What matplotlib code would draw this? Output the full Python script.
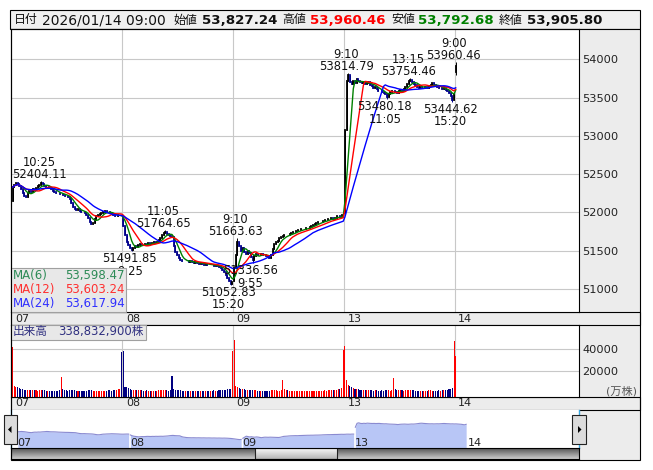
import numpy as np
import pandas as pd
import matplotlib
matplotlib.use("Agg")
import matplotlib.pyplot as plt
from matplotlib.patches import Rectangle, Polygon
from matplotlib.transforms import blended_transform_factory as blend

plt.rcParams['font.family'] = ['DejaVu Sans', 'Noto Sans CJK JP']

# ---- data (5分足, 日経平均) ----
days = ['07', '08', '09', '13', '14']

close_07 = [52330, 52360, 52390, 52370, 52340, 52300, 52250, 52220, 52200, 52250, 52280,
            52270, 52300, 52290, 52320, 52340, 52360, 52390, 52370, 52340, 52330, 52330,
            52320, 52300, 52280, 52270, 52260, 52250, 52240, 52240, 52230, 52220, 52210,
            52200, 52180, 52120, 52070, 52040, 52030, 52040, 52020, 52010, 52000, 51990,
            51970, 51930, 51880, 51850, 51860, 51910, 51950, 51960, 51980, 51990, 52000,
            52020, 52010, 52000, 51990, 51980, 51960, 51950, 51950, 51960, 51970, 51960]
close_08 = [51820, 51700, 51620, 51580, 51540, 51510, 51540, 51560, 51550, 51570, 51590,
            51580, 51570, 51590, 51580, 51600, 51590, 51600, 51610, 51600, 51620, 51640,
            51660, 51700, 51730, 51750, 51720, 51700, 51690, 51680, 51560, 51480, 51440,
            51400, 51380, 51370, 51360, 51370, 51360, 51350, 51360, 51350, 51340, 51350,
            51340, 51330, 51340, 51330, 51320, 51330, 51320, 51310, 51320, 51310, 51300,
            51310, 51300, 51290, 51270, 51250, 51220, 51180, 51140, 51100, 51070, 51090]
close_09 = [51280, 51450, 51620, 51560, 51500, 51530, 51480, 51460, 51500, 51470, 51420,
            51380, 51430, 51460, 51450, 51440, 51460, 51450, 51440, 51430, 51420, 51410,
            51450, 51520, 51590, 51610, 51630, 51660, 51680, 51690, 51700, 51710, 51700,
            51720, 51730, 51740, 51750, 51760, 51770, 51770, 51780, 51780, 51790, 51800,
            51800, 51810, 51820, 51840, 51850, 51860, 51870, 51870, 51880, 51890, 51900,
            51900, 51910, 51920, 51930, 51920, 51930, 51950, 51950, 51940, 51960, 51960]
close_13 = [53080, 53720, 53790, 53700, 53680, 53720, 53690, 53740, 53720, 53700, 53690,
            53700, 53680, 53690, 53700, 53670, 53650, 53630, 53640, 53610, 53590, 53580,
            53570, 53560, 53540, 53510, 53550, 53570, 53580, 53590, 53570, 53560, 53580,
            53600, 53590, 53610, 53640, 53680, 53720, 53730, 53700, 53680, 53660, 53640,
            53630, 53640, 53620, 53630, 53640, 53630, 53650, 53670, 53690, 53670, 53650,
            53640, 53620, 53630, 53610, 53620, 53600, 53580, 53560, 53520, 53470, 53550]
close_14 = [53905.80]
low_14 = [53792.68]
first_open = [52150, 51930, 51100, 51990, 53827.24]

vol_07 = [42000, 6400, 5700, 5000, 4200, 3600, 3300, 3000, 2800, 2600, 2700,
          2500, 2400, 2600, 2300, 2200, 2400, 2800, 2500, 2300, 2200, 2100,
          2000, 2200, 2100, 2000, 1900, 2100, 2400, 14800, 3400, 2600, 2300,
          2200, 2400, 2600, 2500, 2300, 2100, 2000, 2200, 2100, 2000, 1900,
          2100, 2300, 2400, 2600, 2200, 2100, 2000, 1900, 2000, 2100, 2200,
          2000, 2100, 2300, 2400, 2200, 2500, 2700, 2900, 3200, 3600, 37000]
vol_08 = [38500, 5200, 5100, 4200, 3300, 3000, 2800, 2600, 2500, 2400, 2600,
          2300, 2200, 2100, 2300, 2000, 2100, 2200, 2000, 1900, 2100, 2300,
          2400, 2600, 2800, 2500, 2300, 2200, 2400, 15500, 3800, 3000, 2700,
          2500, 2300, 2200, 2100, 2000, 2100, 1900, 2000, 2100, 1900, 1800,
          2000, 2100, 1900, 2000, 2100, 2200, 2000, 1900, 2100, 2200, 2300,
          2100, 2200, 2400, 2600, 2500, 2700, 3000, 3300, 3600, 4000, 38500]
vol_09 = [48000, 6400, 5700, 4500, 3900, 3500, 3200, 3000, 2800, 2700, 2600,
          2900, 2500, 2300, 2200, 2100, 2000, 2200, 2100, 2000, 1900, 2100,
          2400, 2800, 2600, 2400, 2200, 2100, 2300, 11800, 3200, 2600, 2400,
          2200, 2100, 2000, 2100, 1900, 2000, 2100, 1900, 2000, 1800, 1900,
          2000, 2100, 2000, 1900, 2100, 2000, 2200, 2100, 2000, 2200, 2300,
          2100, 2300, 2500, 2400, 2600, 2800, 3000, 3200, 3500, 4200, 39000]
vol_13 = [43000, 11800, 7300, 6400, 5100, 4200, 3800, 3500, 3200, 3000, 2800,
          2700, 2600, 2500, 2400, 2500, 2300, 2200, 2400, 2300, 2100, 2200,
          2300, 2100, 2400, 2600, 2300, 2200, 2400, 14000, 3500, 2800, 2600,
          2400, 2300, 2200, 2500, 2600, 2800, 2700, 2400, 2300, 2200, 2100,
          2000, 2200, 2100, 2000, 2200, 2100, 2300, 2400, 2200, 2100, 2000,
          2200, 2300, 2100, 2400, 2500, 2700, 2900, 3200, 3600, 4300, 47500]
vol_14 = [33883]

# 高値・安値の注記
ann_day = ['07', '08', '08', '08', '09', '09', '13', '13', '13', '13', '14']
ann_bar = [17, 5, 25, 64, 2, 11, 2, 25, 39, 64, 0]
ann_time = ['10:25', '9:25', '11:05', '15:20', '9:10', '9:55', '9:10', '11:05', '13:15', '15:20', '9:00']
ann_price = [52404.11, 51491.85, 51764.65, 51052.83, 51663.63, 51336.56,
             53814.79, 53480.18, 53754.46, 53444.62, 53960.46]
ann_kind = ['high', 'low', 'high', 'low', 'high', 'low', 'high', 'low', 'high', 'low', 'high']

header_labels = ['日付', '2026/01/14 09:00', '始値', '53,827.24', '高値', '53,960.46',
                 '安値', '53,792.68', '終値', '53,905.80']
ma_names = ['MA(6)', 'MA(12)', 'MA(24)']
ma_periods = [6, 12, 24]
ma_values = ['53,598.47', '53,603.24', '53,617.94']
volume_text = '338,832,900株'
price_ticks = [51000, 51500, 52000, 52500, 53000, 53500, 54000]
vol_ticks = [20000, 40000]

# ---- build series ----
day_closes = [close_07, close_08, close_09, close_13, close_14]
day_vols = [vol_07, vol_08, vol_09, vol_13, vol_14]
closes = np.concatenate(day_closes).astype(float)
vols = np.concatenate(day_vols).astype(float)
starts = np.cumsum([0] + [len(c) for c in day_closes])[:-1]
n = len(closes)
x = np.arange(n)

opens = np.r_[np.nan, closes[:-1]]
for d, s in enumerate(starts):
    opens[s] = first_open[d]
highs = np.maximum(opens, closes)
lows = np.minimum(opens, closes)
for dname, b, p, k in zip(ann_day, ann_bar, ann_price, ann_kind):
    g = starts[days.index(dname)] + b
    if k == 'high':
        highs[g] = max(highs[g], p)
    else:
        lows[g] = min(lows[g], p)
lows[starts[4]] = low_14[0]
up = closes >= opens

# ---- figure layout (pixel helpers) ----
W, H = 653, 470
def fx(px): return px / W
def fy(py): return 1 - py / H
def box(x0, y0, x1, y1): return [fx(x0), fy(y1), (x1 - x0) / W, (y1 - y0) / H]

fig = plt.figure(figsize=(6.53, 4.70), dpi=100)
fig.patch.set_facecolor('white')

def frect(x0, y0, x1, y1, **kw):
    r = Rectangle((fx(x0), fy(y1)), (x1 - x0) / W, (y1 - y0) / H,
                  transform=fig.transFigure, **kw)
    fig.add_artist(r)
    return r

frect(10, 10, 640, 29, fc='#f0f0f0', ec='black', lw=0.8, zorder=-1)
frect(579, 29, 640, 460, fc='#ececec', ec='none', zorder=-1)
frect(11, 312, 640, 325, fc='#ececec', ec='black', lw=0.8, zorder=-1)
frect(11, 397, 640, 410, fc='#ececec', ec='black', lw=0.8, zorder=-1)

step = 110.8 / 66
xl = (-0.9, -0.9 + 568 / step)

# ---- price panel ----
ax_p = fig.add_axes(box(11, 29, 579, 312))
ax_p.set_xlim(*xl)
ax_p.set_ylim(50700, 54395)
ax_p.set_axisbelow(True)
ax_p.set_yticks(price_ticks)
ax_p.grid(axis='y', color='#c8c8c8', lw=0.8)
for s in starts[1:]:
    ax_p.axvline(s - 0.5, color='#c8c8c8', lw=0.8, zorder=0.5)
ax_p.yaxis.tick_right()
ax_p.tick_params(axis='y', length=0, pad=2.5, labelsize=8.2, labelcolor='#222222')
ax_p.tick_params(axis='x', length=0, labelbottom=False)
for sp in ax_p.spines.values():
    sp.set_color('black'); sp.set_linewidth(0.8)

ccol = np.where(up, 'black', '#00008b')
ax_p.vlines(x, lows, highs, colors=ccol, lw=0.7, zorder=2)
body = ax_p.vlines(x, np.minimum(opens, closes), np.maximum(opens, closes),
                   colors=ccol, lw=1.3, zorder=2)
body.set_capstyle('projecting')

ser = pd.Series(closes)
ma_colors = ['#008000', '#ff0000', '#0000ff']
for per, col in zip(ma_periods, ma_colors):
    ax_p.plot(x, ser.rolling(per, min_periods=1).mean(), color=col, lw=1.0, zorder=3)

for dname, b, p, t, k in zip(ann_day, ann_bar, ann_price, ann_time, ann_kind):
    g = starts[days.index(dname)] + b
    if k == 'high':
        ax_p.annotate(f'{t}\n{p:.2f}', (g, p), xytext=(-2, 0), textcoords='offset pixels',
                      ha='center', va='bottom', fontsize=8.3, color='#111111',
                      linespacing=0.95, annotation_clip=False, zorder=4)
    else:
        ax_p.annotate(f'{p:.2f}\n{t}', (g, p), xytext=(-2, -1), textcoords='offset pixels',
                      ha='center', va='top', fontsize=8.3, color='#111111',
                      linespacing=0.95, annotation_clip=False, zorder=4)

# MA legend box
frect(11, 268, 126, 312, fc='#e8e8e8', ec='#a0a0a0', lw=0.8, zorder=5)
legend_cols = ['#2e8b57', '#ff3030', '#3030ff']
for row, (nm, val, col) in enumerate(zip(ma_names, ma_values, legend_cols)):
    yy = 275.5 + row * 14
    fig.text(fx(13), fy(yy), nm, color=col, fontsize=8.5, va='center', zorder=6)
    fig.text(fx(125), fy(yy), val, color=col, fontsize=8.5, va='center', ha='right', zorder=6)

# ---- volume panel ----
vmin = -3640
ax_v = fig.add_axes(box(11, 325, 579, 397))
ax_v.set_xlim(*xl)
ax_v.set_ylim(vmin, 61800)
ax_v.set_axisbelow(True)
ax_v.set_yticks(vol_ticks)
ax_v.grid(axis='y', color='#c8c8c8', lw=0.8)
for s in starts[1:]:
    ax_v.axvline(s - 0.5, color='#c8c8c8', lw=0.8, zorder=0.5)
ax_v.yaxis.tick_right()
ax_v.tick_params(axis='y', length=0, pad=2.5, labelsize=8.2, labelcolor='#222222')
ax_v.tick_params(axis='x', length=0, labelbottom=False)
for sp in ax_v.spines.values():
    sp.set_color('black'); sp.set_linewidth(0.8)
vcol = np.where(up, '#ff0000', '#000080')
ax_v.bar(x, vols - vmin, bottom=vmin, width=0.62, color=vcol, lw=0, zorder=2)

frect(11, 325, 146, 339.5, fc='#e8e8e8', ec='#a0a0a0', lw=0.8, zorder=5)
fig.text(fx(13), fy(332), '出来高', color='#303080', fontsize=8.4, va='center', zorder=6)
fig.text(fx(58), fy(332), volume_text, color='#303080', fontsize=8.4, va='center', zorder=6)
fig.text(fx(637), fy(391), '(万株)', color='#555555', fontsize=8, va='center', ha='right')

# date strips
tb = blend(ax_p.transData, fig.transFigure)
for d, s in enumerate(starts):
    for yy in (318.5, 403.5):
        fig.text(s + 1.5, fy(yy), days[d], transform=tb, fontsize=8, color='#222222',
                 va='center', ha='left')

# ---- navigator ----
nstep = 112.5 / 66
ax_n = fig.add_axes(box(11, 410, 579, 448))
ax_n.set_xlim(-0.5 - 6 / nstep, -0.5 + 562 / nstep)
ax_n.set_ylim(49700, 55880)
ax_n.set_xticks([]); ax_n.set_yticks([])
for k in ('top', 'bottom'):
    ax_n.spines[k].set_visible(False)
for k in ('left', 'right'):
    ax_n.spines[k].set_color('#3aa8e0'); ax_n.spines[k].set_linewidth(1.0)
for d, s in enumerate(starts):
    seg = np.arange(s, s + len(day_closes[d]))
    if len(seg) > 1:
        ax_n.fill_between(seg, 49700, closes[seg], color='#b8c6f6', lw=0)
        ax_n.plot(seg, closes[seg], color='#8a8ad0', lw=0.8)
    ax_n.text(s - 0.3, 0.14, days[d], transform=blend(ax_n.transData, ax_n.transAxes),
              fontsize=8, color='#222222', va='center', ha='left')

# buttons
frect(4, 415, 17, 444, fc='#dcdcdc', ec='#222222', lw=0.8, zorder=7)
frect(572, 415, 586, 444, fc='#dcdcdc', ec='#222222', lw=0.8, zorder=7)
for pts in ([(8, 429.5), (11.5, 426), (11.5, 433)], [(581.5, 429.5), (578, 426), (578, 433)]):
    fig.add_artist(Polygon([(fx(a), fy(b)) for a, b in pts], closed=True,
                           transform=fig.transFigure, fc='black', ec='none', zorder=8))

# scrollbar
ax_s = fig.add_axes(box(11, 448, 579, 459))
ax_s.imshow(np.linspace(0.35, 0.78, 12)[:, None], extent=(11, 579, 0, 1), aspect='auto',
            cmap='gray', vmin=0, vmax=1)
ax_s.imshow(np.linspace(0.97, 0.72, 12)[:, None], extent=(255, 337, 0, 1), aspect='auto',
            cmap='gray', vmin=0, vmax=1)
ax_s.add_patch(Rectangle((255, 0), 82, 1, fc='none', ec='#222222', lw=0.8))
ax_s.set_xlim(11, 579); ax_s.set_ylim(0, 1)
ax_s.set_xticks([]); ax_s.set_yticks([])
for sp in ax_s.spines.values():
    sp.set_color('black'); sp.set_linewidth(0.8)

frect(10.5, 29, 640, 460, fc='none', ec='black', lw=0.8, zorder=6)

# ---- header ----
hdr_x = [14, 42, 173, 202, 282, 310, 391, 418, 499, 527]
hdr_col = ['#111111'] * 5 + ['#ff0000', '#111111', '#008000', '#111111', '#111111']
for i, (lab, px, col) in enumerate(zip(header_labels, hdr_x, hdr_col)):
    if i % 2 == 1 and i > 1:
        fig.text(fx(px), fy(20), lab, color=col, fontsize=9.6, fontweight='bold', va='center')
    elif i == 1:
        fig.text(fx(px), fy(20), lab, color=col, fontsize=10, va='center')
    else:
        fig.text(fx(px), fy(20), lab, color=col, fontsize=8.6, va='center')

fig.savefig('out.png', dpi=100)
